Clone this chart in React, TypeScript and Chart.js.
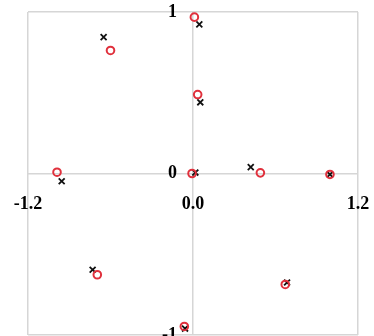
import React, { useEffect, useRef } from "react";
import { Chart, registerables } from "chart.js";

Chart.register(...registerables);

// Estimated locations (crosses) and observed locations (circles)
const crossX = [-0.65, 0.046, 0.053, -0.955, 0.017, 0.42, 0.996, -0.73, 0.684, -0.058];
const crossY = [0.844, 0.923, 0.441, -0.048, 0.006, 0.039, -0.006, -0.596, -0.675, -0.96];
const circleX = [-0.6, 0.01, 0.034, -0.989, -0.007, 0.49, 0.996, -0.696, 0.671, -0.063];
const circleY = [0.762, 0.968, 0.489, 0.008, 0.0, 0.004, -0.006, -0.627, -0.687, -0.947];

const xTicks = [-1.2, 0, 1.2];
const yTicks = [-1, 0, 1];

const toPoints = (xs: number[], ys: number[]) => xs.map((x, i) => ({ x, y: ys[i] }));

const labelFont = { family: "'Liberation Serif', 'Times New Roman', serif", size: 18, weight: "bold" as const };
const gridColor = "#d6d6d6";

export default function App() {
  const canvasRef = useRef<HTMLCanvasElement | null>(null);

  useEffect(() => {
    const canvas = canvasRef.current;
    if (!canvas) return;
    const chart = new Chart(canvas, {
      type: "scatter",
      data: {
        datasets: [
          {
            label: "observed",
            data: toPoints(circleX, circleY),
            pointStyle: "circle",
            pointRadius: 3.8,
            borderColor: "#e0303c",
            backgroundColor: "rgba(0,0,0,0)",
            borderWidth: 2,
          },
          {
            label: "estimated",
            data: toPoints(crossX, crossY),
            pointStyle: "crossRot",
            pointRadius: 4.2,
            borderColor: "#111111",
            borderWidth: 1.8,
          },
        ],
      },
      options: {
        animation: false,
        responsive: false,
        layout: { autoPadding: false, padding: { left: 28, right: 16, top: 12, bottom: 1 } },
        plugins: { legend: { display: false }, tooltip: { enabled: false } },
        scales: {
          x: {
            type: "linear",
            min: -1.2,
            max: 1.2,
            position: "center",
            afterBuildTicks: (scale: any) => {
              scale.ticks = xTicks.map((v) => ({ value: v }));
            },
            afterFit: (scale: any) => {
              scale.paddingLeft = 0;
              scale.paddingRight = 0;
            },
            border: { display: false },
            grid: { color: gridColor, lineWidth: 1.5, drawTicks: false },
            ticks: {
              font: labelFont,
              color: "#000",
              padding: 20,
              maxRotation: 0,
              callback: (v: any) => Number(v).toFixed(1),
            },
          },
          y: {
            type: "linear",
            min: -1,
            max: 1,
            position: "center",
            afterBuildTicks: (scale: any) => {
              scale.ticks = yTicks.map((v) => ({ value: v }));
            },
            afterFit: (scale: any) => {
              scale.paddingTop = 0;
              scale.paddingBottom = 0;
            },
            border: { display: false },
            grid: { color: gridColor, lineWidth: 1.5, drawTicks: false },
            ticks: {
              font: labelFont,
              color: "#000",
              padding: 16,
              callback: (v: any) => String(v),
            },
          },
        },
      },
    });
    return () => chart.destroy();
  }, []);

  return (
    <div style={{ position: "absolute", left: 0, top: 0, width: 374, height: 336, background: "#fff" }}>
      <canvas ref={canvasRef} width={374} height={336} style={{ display: "block" }} />
    </div>
  );
}
